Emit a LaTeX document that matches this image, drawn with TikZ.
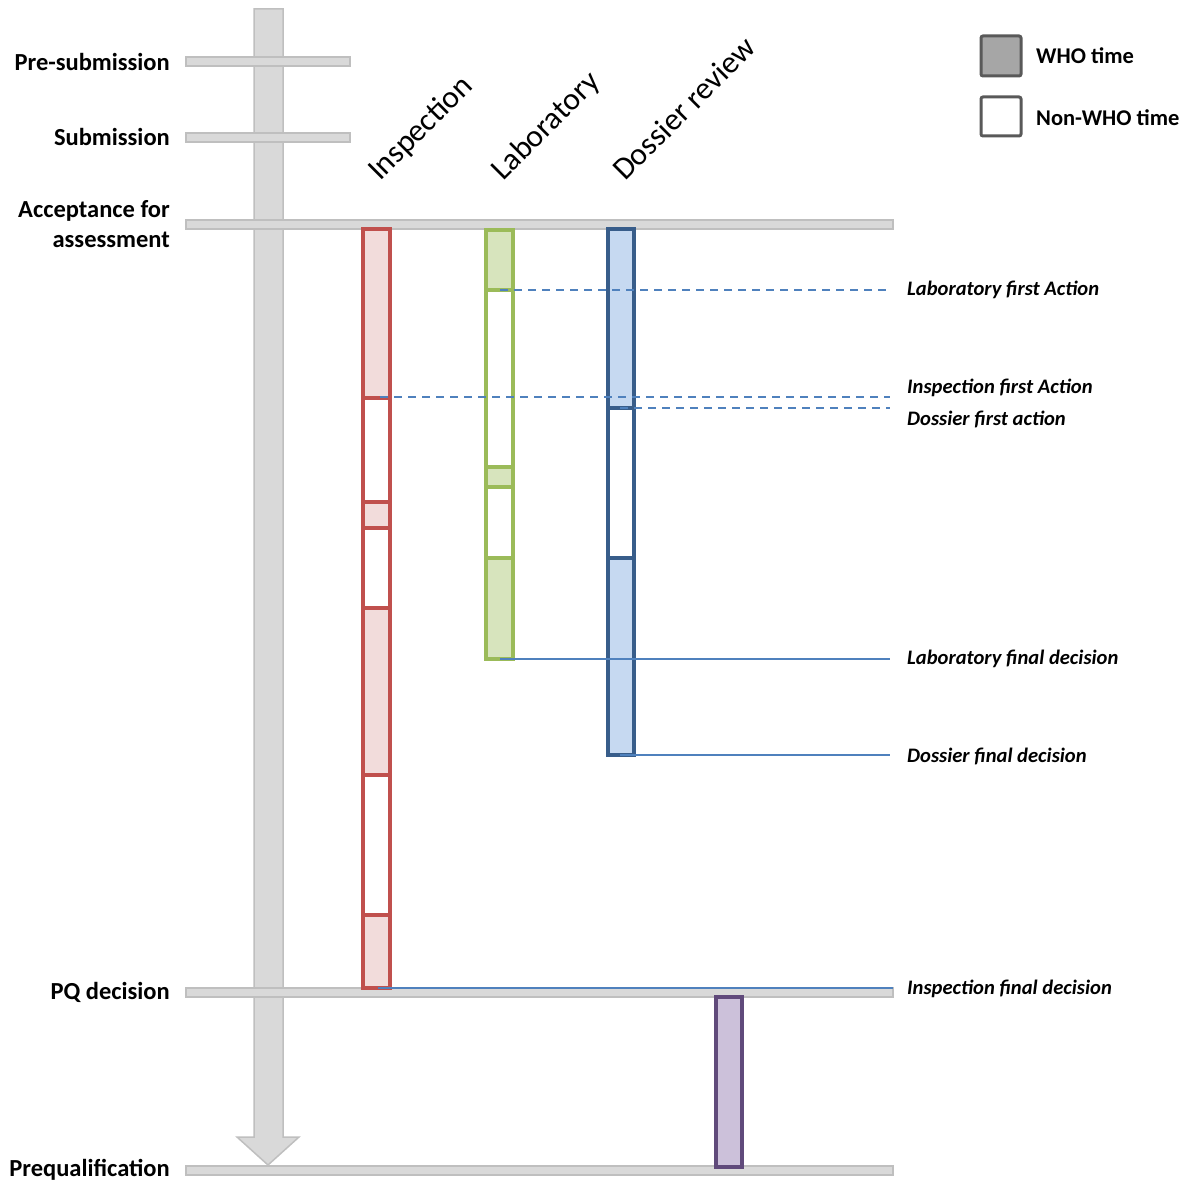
\documentclass[tikz,border=0pt]{standalone}
\usepackage{fontspec}
\setmainfont{Carlito}
\begin{document}
\begin{tikzpicture}[x=1pt,y=-1pt]
\definecolor{gfill}{HTML}{D9D9D9}
\definecolor{gline}{HTML}{BFBFBF}
\definecolor{rline}{HTML}{C0504D}
\definecolor{rfill}{HTML}{F2DCDB}
\definecolor{grline}{HTML}{9BBB59}
\definecolor{grfill}{HTML}{D7E4BD}
\definecolor{bline}{HTML}{385D8A}
\definecolor{bfill}{HTML}{C6D9F1}
\definecolor{pline}{HTML}{604A7B}
\definecolor{pfill}{HTML}{CCC1DA}
\definecolor{conncol}{HTML}{4F81BD}
\definecolor{leggray}{HTML}{A6A6A6}
\definecolor{legline}{HTML}{595959}
\tikzset{
  stage/.style={fill=gfill, draw=gline, line width=1.5pt},
  stagelab/.style={font=\fontsize{24.5}{30}\selectfont\bfseries, anchor=east, align=right, inner sep=0pt},
  collab/.style={font=\fontsize{31.5}{36}\selectfont, rotate=45, anchor=base west, inner sep=0pt},
  evlab/.style={font=\fontsize{20.6}{24}\selectfont\bfseries\itshape, anchor=west, inner sep=0pt},
  leglab/.style={font=\fontsize{22.5}{26}\selectfont\bfseries, anchor=west, inner sep=0pt},
  insp/.style={draw=rline, line width=3.5pt},
  labo/.style={draw=grline, line width=3.5pt},
  doss/.style={draw=bline, line width=3.5pt},
  conn/.style={draw=conncol, line width=1.2pt},
  dashconn/.style={conn, dash pattern=on 8pt off 6pt},
}
\useasboundingbox (0,0) rectangle (1186,1182);

% vertical time arrow
\filldraw[stage] (254,9) -- (283,9) -- (283,1137) -- (299,1137) -- (268,1165) -- (237,1137) -- (254,1137) -- cycle;

% stage bars
\filldraw[stage] (186,57) rectangle (350,66);
\filldraw[stage] (186,133) rectangle (350,142);
\filldraw[stage] (186,220) rectangle (893,229);
\filldraw[stage] (186,988) rectangle (893,997);
\filldraw[stage] (186,1166) rectangle (893,1175);

% stage labels
\node[stagelab] (presub) at (170,62) {Pre-submission};
\node[stagelab] (sub) at (170,137) {Submission};
\node[stagelab] (acc) at (170,224) {Acceptance for\\assessment};
\node[stagelab] (pq) at (170,992) {PQ decision};
\node[stagelab] (preq) at (170,1170) {Prequalification};

% column headers
\node[collab] (hinsp) at (380,182) {Inspection};
\node[collab] (hlab) at (503,182) {Laboratory};
\node[collab] (hdos) at (625,182) {Dossier review};

% Inspection bar
\filldraw[insp, fill=rfill] (363,229) rectangle (390,398);
\filldraw[insp, fill=white] (363,398) rectangle (390,502);
\filldraw[insp, fill=rfill] (363,502) rectangle (390,528);
\filldraw[insp, fill=white] (363,528) rectangle (390,608);
\filldraw[insp, fill=rfill] (363,608) rectangle (390,775);
\filldraw[insp, fill=white] (363,775) rectangle (390,915);
\filldraw[insp, fill=rfill] (363,915) rectangle (390,988);

% Laboratory bar
\filldraw[labo, fill=grfill] (486,230) rectangle (513,290);
\filldraw[labo, fill=white] (486,290) rectangle (513,467);
\filldraw[labo, fill=grfill] (486,467) rectangle (513,487);
\filldraw[labo, fill=white] (486,487) rectangle (513,558);
\filldraw[labo, fill=grfill] (486,558) rectangle (513,659);

% Dossier bar
\filldraw[doss, fill=bfill] (608,229) rectangle (634,408);
\filldraw[doss, fill=white] (608,408) rectangle (634,558);
\filldraw[doss, fill=bfill] (608,558) rectangle (634,755);

% Prequalification bar
\filldraw[draw=pline, line width=3.5pt, fill=pfill] (716,997) rectangle (742,1167);

% connector start points
\coordinate (labfirst) at (500,290);
\coordinate (inspfirst) at (380,397);
\coordinate (dosfirst) at (620,408);
\coordinate (labfinal) at (500,659);
\coordinate (dosfinal) at (620,755);
\coordinate (inspfinal) at (378,988);

% event labels
\node[evlab] (elf) at (907,290) {Laboratory first Action};
\node[evlab] (eif) at (907,388) {Inspection first Action};
\node[evlab] (edf) at (907,419) {Dossier first action};
\node[evlab] (elfd) at (907,659) {Laboratory final decision};
\node[evlab] (edfd) at (907,756) {Dossier final decision};
\node[evlab] (eifd) at (907,989) {Inspection final decision};

% connectors
\draw[dashconn] (labfirst) -- (labfirst -| 890,0);
\draw[dashconn] (inspfirst) -- (inspfirst -| 890,0);
\draw[dashconn] (dosfirst) -- (dosfirst -| 890,0);
\draw[conn] (labfinal) -- (labfinal -| 890,0);
\draw[conn] (dosfinal) -- (dosfinal -| 890,0);
\draw[conn] (inspfinal) -- (inspfinal -| 893,0);

% legend
\filldraw[draw=legline, fill=leggray, line width=3pt, rounded corners=2pt] (981,36) rectangle (1021,76);
\filldraw[draw=legline, fill=white, line width=3pt, rounded corners=2pt] (981,97) rectangle (1021,136);
\node[leglab] (lwho) at (1036,56) {WHO time};
\node[leglab] (lnon) at (1036,118) {Non-WHO time};
\end{tikzpicture}
\end{document}
